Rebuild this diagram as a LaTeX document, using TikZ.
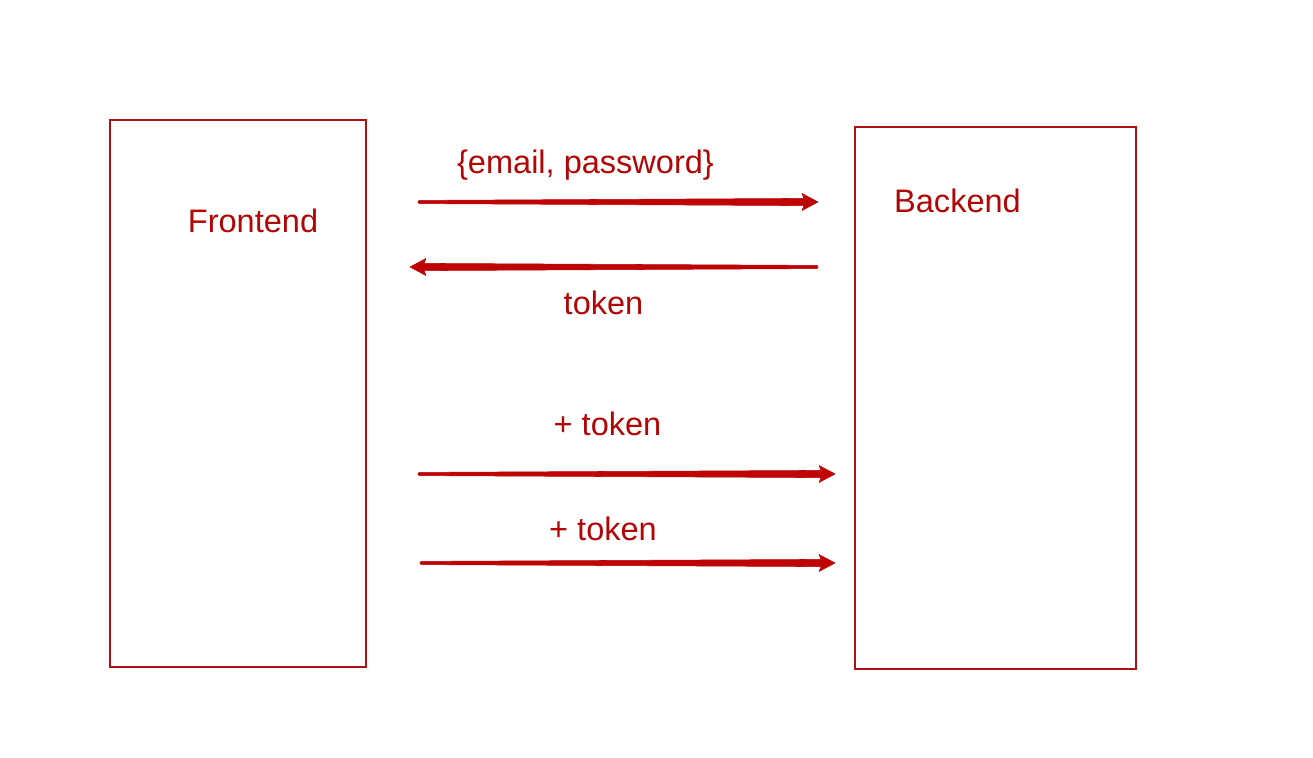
\documentclass[tikz,border=0pt]{standalone}
\usepackage{fontspec}
\setmainfont{Liberation Sans}
\usetikzlibrary{calc}
\definecolor{boxred}{RGB}{172,16,16}
\definecolor{textred}{RGB}{178,6,6}
\definecolor{arrowred}{RGB}{190,4,4}
\tikzset{
  box/.style={draw=boxred, line width=1.5pt, fill=none, inner sep=0pt},
  lbl/.style={text=textred, anchor=base, inner sep=0pt,
              font=\fontsize{24.4}{29}\selectfont},
}
% Tapered arrow: thin at the tail, thicker towards the head.
\newcommand\taperarrow[2]{%
  \filldraw[arrowred, line width=0.4pt, line join=round]
    ($(#1)!1.2pt!90:(#2)$)
    -- ($($(#2)!10.5pt!(#1)$)!2.7pt!90:(#2)$)
    -- ($($(#2)!12pt!(#1)$)!6.4pt!90:(#2)$)
    -- (#2)
    -- ($($(#2)!12pt!(#1)$)!6.4pt!-90:(#2)$)
    -- ($($(#2)!10.5pt!(#1)$)!2.7pt!-90:(#2)$)
    -- ($(#1)!1.2pt!-90:(#2)$)
    -- cycle;
  \fill[arrowred] (#1) circle[radius=1.2pt];
}
\begin{document}
\begin{tikzpicture}[x=0.75pt, y=-0.75pt]
  \useasboundingbox (0,0) rectangle (1313,757);

  % the two parties
  \node[box, minimum width=192pt, minimum height=410.25pt] (front) at (238,393.5) {};
  \node[box, minimum width=210.75pt, minimum height=406.5pt] (back) at (995.5,398) {};

  \node[lbl] (frontlbl) at (253,232) {Frontend};
  \node[lbl] (backlbl) at (957.5,212) {Backend};

  % login request and token reply
  \coordinate (m1s) at (419,202);  \coordinate (m1e) at (818,202);
  \coordinate (m2s) at (817,267);  \coordinate (m2e) at (410,267);
  \coordinate (m3s) at (419,474);  \coordinate (m3e) at (835,474);
  \coordinate (m4s) at (421,563);  \coordinate (m4e) at (835,563);

  \taperarrow{m1s}{m1e}
  \taperarrow{m2s}{m2e}
  \taperarrow{m3s}{m3e}
  \taperarrow{m4s}{m4e}

  \node[lbl] (m1lbl) at (585.5,173) {\{email, password\}};
  \node[lbl] (m2lbl) at (603.5,314) {token};
  \node[lbl] (m3lbl) at (607.5,435) {+ token};
  \node[lbl] (m4lbl) at (603,540) {+ token};
\end{tikzpicture}
\end{document}
